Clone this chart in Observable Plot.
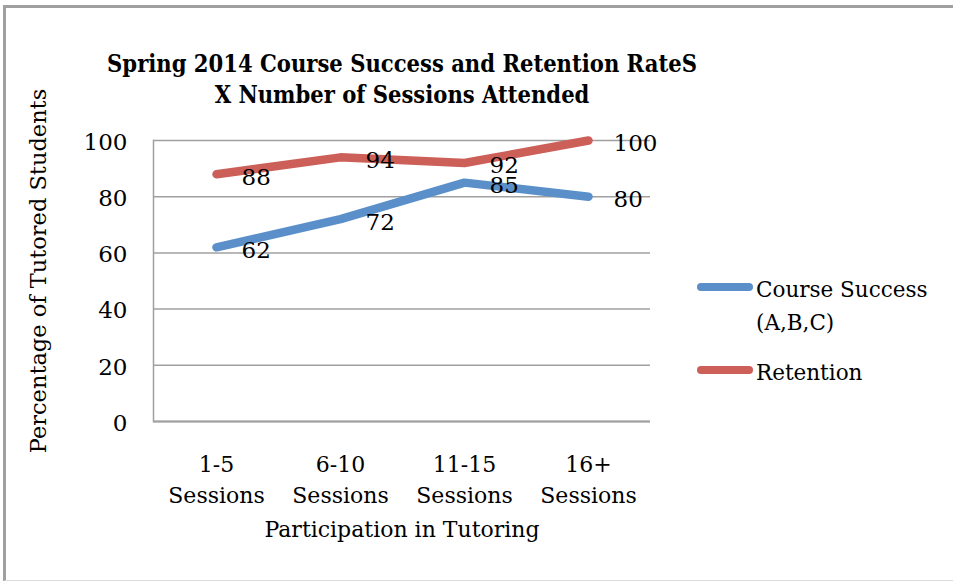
<!DOCTYPE html>
<html>
<head>
<meta charset="utf-8">
<script src="https://cdn.jsdelivr.net/npm/d3@7"></script>
<script src="https://cdn.jsdelivr.net/npm/@observablehq/plot@0.6"></script>
<style>
  html, body { margin: 0; padding: 0; background: #fff; overflow: hidden; }
  #wrap { position: relative; width: 953px; height: 581px; overflow: hidden; font-family: "DejaVu Serif", serif; color: #000; }
  #border { position: absolute; left: 3px; top: 5px; width: 950px; height: 576px; border-left: 3px solid #a0a0a0; border-top: 3px solid #a0a0a0; border-bottom: 1px solid #dcdcdc; border-right: none; box-sizing: border-box; }
  #chart { position: absolute; left: 0; top: 0; }
  .title { position: absolute; left: 0; width: 804px; text-align: center; font-family: "DejaVu Serif Condensed", "DejaVu Serif", serif; font-stretch: condensed; font-weight: bold; font-size: 23.5px; line-height: 31px; top: 49px; white-space: nowrap; }
  .ylab { position: absolute; left: 38px; top: 271px; transform: translate(-50%, -50%) rotate(-90deg); font-size: 22.5px; white-space: nowrap; }
  .xlab { position: absolute; left: 0; width: 804px; text-align: center; top: 517px; font-size: 22px; white-space: nowrap; }
  .leg { position: absolute; font-size: 21.5px; line-height: 33px; white-space: nowrap; }
  .sw { position: absolute; width: 56px; height: 8px; border-radius: 4px; }
</style>
</head>
<body>
<div id="wrap">
  <div id="border"></div>
  <div id="chart"></div>
  <div class="title" id="title"></div>
  <div class="ylab" id="ylab"></div>
  <div class="xlab" id="xlab"></div>
  <div id="legend"></div>
</div>
<script>
// ---- data ----
const categories = ["1-5 Sessions", "6-10 Sessions", "11-15 Sessions", "16+ Sessions"];
const tickLabels = ["1-5\nSessions", "6-10\nSessions", "11-15\nSessions", "16+\nSessions"];
const courseSuccess = [62, 72, 85, 80];
const retention = [88, 94, 92, 100];
const seriesNames = ["Course Success (A,B,C)", "Retention"];
const seriesColors = ["#5a8fc9", "#cc5f58"];
const yTicks = [0, 20, 40, 60, 80, 100];
const titleLines = ["Spring 2014 Course Success and Retention RateS", "X Number of Sessions Attended"];
const yTitle = "Percentage of Tutored Students";
const xTitle = "Participation in Tutoring";
const legendLines = [["Course Success", "(A,B,C)"], ["Retention"]];

// ---- build table ----
const rows = [];
categories.forEach((c, i) => {
  rows.push({cat: c, value: courseSuccess[i], series: seriesNames[0]});
  rows.push({cat: c, value: retention[i], series: seriesNames[1]});
});
const tickMap = new Map(categories.map((c, i) => [c, tickLabels[i]]));
const font = "DejaVu Serif";

const chart = Plot.plot({
  width: 953,
  height: 581,
  marginLeft: 153,
  marginRight: 303,
  marginTop: 140,
  marginBottom: 160,
  style: {fontFamily: font, fontSize: "22px", color: "#000", background: "transparent", overflow: "visible"},
  x: {type: "band", domain: categories, padding: 0},
  y: {domain: [0, 100]},
  color: {domain: seriesNames, range: seriesColors},
  marks: [
    Plot.gridY(yTicks, {stroke: "#a0a0a0", strokeOpacity: 1, strokeWidth: 1.5}),
    Plot.frame({anchor: "left", stroke: "#a0a0a0", strokeOpacity: 1, strokeWidth: 1.5}),
    Plot.ruleY([0], {stroke: "#a0a0a0", strokeWidth: 2}),
    Plot.line(rows.filter(d => d.series === seriesNames[0]), {x: "cat", y: "value", stroke: "series", strokeWidth: 8.5, strokeLinecap: "round", strokeLinejoin: "round"}),
    Plot.line(rows.filter(d => d.series === seriesNames[1]), {x: "cat", y: "value", stroke: "series", strokeWidth: 8.5, strokeLinecap: "round", strokeLinejoin: "round"}),
    Plot.text(rows, {x: "cat", y: "value", text: d => String(d.value), textAnchor: "start", dx: 25, dy: 3, fontSize: 23, fill: "#000"}),
    Plot.axisY(yTicks, {tickSize: 0, tickPadding: 26, fontSize: 23, label: null, dy: 2}),
    Plot.axisX({tickSize: 0, tickPadding: 29, fontSize: 22, label: null, lineHeight: 1.4, tickFormat: d => tickMap.get(d)})
  ]
});
document.getElementById("chart").appendChild(chart);

document.getElementById("title").innerHTML = titleLines.join("<br>");
document.getElementById("ylab").textContent = yTitle;
document.getElementById("xlab").textContent = xTitle;

const legend = document.getElementById("legend");
const legTops = [273, 356];
legendLines.forEach((lines, i) => {
  const sw = document.createElement("div");
  sw.className = "sw";
  sw.style.left = "697px";
  sw.style.top = (legTops[i] + 10) + "px";
  sw.style.background = seriesColors[i];
  legend.appendChild(sw);
  const t = document.createElement("div");
  t.className = "leg";
  t.style.left = "756px";
  t.style.top = (legTops[i]) + "px";
  t.innerHTML = lines.join("<br>");
  legend.appendChild(t);
});
</script>
</body>
</html>
